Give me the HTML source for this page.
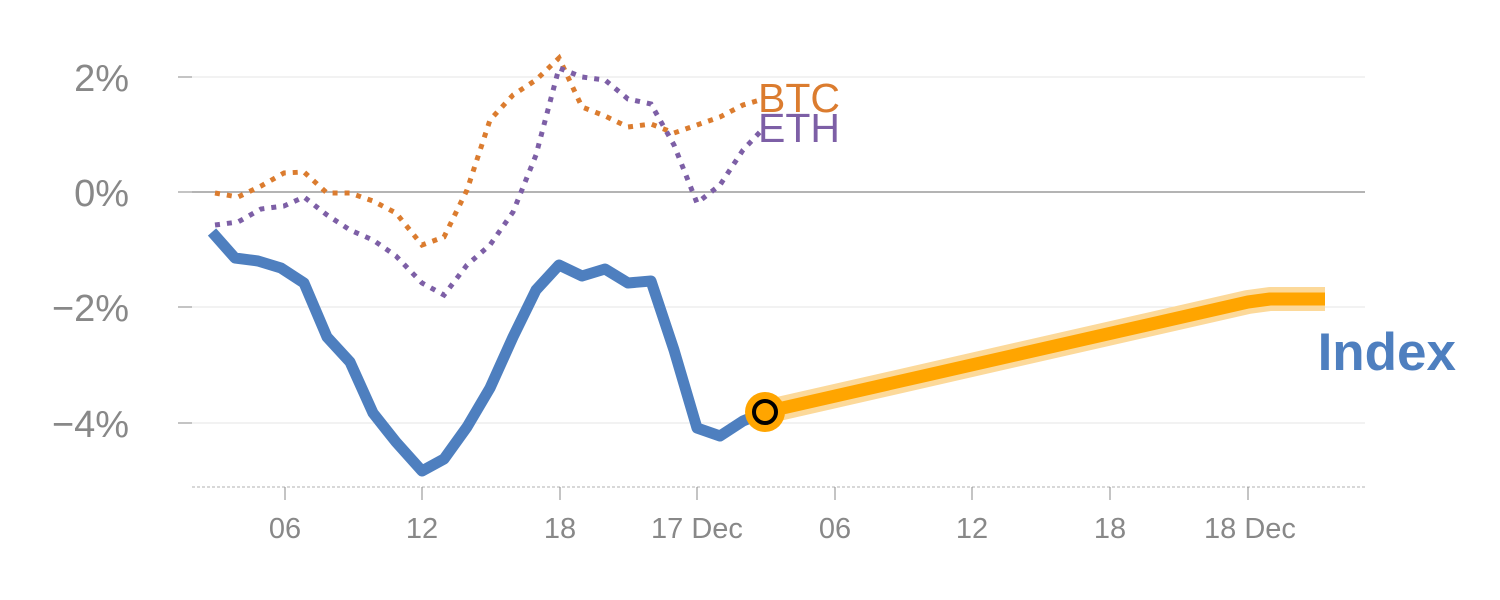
<!DOCTYPE html>
<html><head><meta charset="utf-8"><style>
html,body{margin:0;padding:0;background:#fff;}
svg{display:block;font-family:"Liberation Sans",sans-serif;}
</style></head><body>
<svg width="1500" height="600" viewBox="0 0 1500 600">
<g stroke="#e6e6e6" stroke-width="1">
<line x1="192" y1="77" x2="1365" y2="77"/>
<line x1="192" y1="307" x2="1365" y2="307"/>
<line x1="192" y1="423" x2="1365" y2="423"/>
</g>
<line x1="192" y1="192" x2="1365" y2="192" stroke="#888" stroke-width="1.2"/>
<line x1="192" y1="487" x2="1365" y2="487" stroke="#ccc" stroke-width="1.5" stroke-dasharray="3,2"/>
<g stroke="#888" stroke-width="1">
<line x1="178" y1="77" x2="192" y2="77"/><line x1="178" y1="192" x2="192" y2="192"/>
<line x1="178" y1="307" x2="192" y2="307"/><line x1="178" y1="423" x2="192" y2="423"/>
<line x1="285" y1="487" x2="285" y2="500"/><line x1="422" y1="487" x2="422" y2="500"/>
<line x1="560" y1="487" x2="560" y2="500"/><line x1="697" y1="487" x2="697" y2="500"/>
<line x1="835" y1="487" x2="835" y2="500"/><line x1="972" y1="487" x2="972" y2="500"/>
<line x1="1110" y1="487" x2="1110" y2="500"/><line x1="1248" y1="487" x2="1248" y2="500"/>
</g>
<g fill="#888" font-size="38" text-anchor="end">
<text x="129" y="91">2%</text><text x="129" y="206">0%</text>
<text x="129" y="321">−2%</text><text x="129" y="437">−4%</text>
</g>
<g fill="#888" font-size="29" text-anchor="middle">
<text x="285" y="538">06</text><text x="422" y="538">12</text><text x="560" y="538">18</text>
<text x="697" y="538">17 Dec</text><text x="835" y="538">06</text><text x="972" y="538">12</text>
<text x="1110" y="538">18</text><text x="1250" y="538">18 Dec</text>
</g>
<polyline fill="none" stroke="#db7c2f" stroke-width="5" stroke-dasharray="5,7" points="215,193 238,197 261,186 284,173 304,172 327,193 350,193 373,201 396,213 422,245 444,237 467,190 490,120 513,95 536,80 559,58 582,107 605,116 628,127 651,124 674,133 697,125 720,117 743,105 760,100"/>
<polyline fill="none" stroke="#7d5fa6" stroke-width="5" stroke-dasharray="5,7" points="215,225 238,222 261,209 284,206 304,197 327,215 350,230 373,240 396,256 422,283 444,295 467,265 490,245 513,212 536,155 559,68 582,77 605,80 628,99 651,104 674,145 697,203 720,185 743,150 760,132"/>
<text x="758" y="112" fill="#db7c2f" font-size="41">BTC</text>
<text x="758" y="142" fill="#7d5fa6" font-size="41">ETH</text>
<polyline fill="none" stroke="#4e7fbf" stroke-width="11" stroke-linejoin="round" points="212,232 235,258 258,261 281,268 304,283 327,337 350,362 373,413 396,442 422,471 444,459 467,427 490,388 513,337 536,290 559,265 582,276 605,269 628,283 651,281 674,350 697,428 720,436 743,421 765,412"/>
<polyline fill="none" stroke="#fcd99a" stroke-width="24" stroke-linejoin="round" points="765,412 1248,302 1270,299 1325,299"/>
<polyline fill="none" stroke="#ffa500" stroke-width="13" stroke-linejoin="round" points="765,412 1248,302 1270,299 1325,299"/>
<circle cx="765" cy="412" r="20" fill="#ffa500"/>
<circle cx="765" cy="412" r="11" fill="#ffa500" stroke="#000" stroke-width="4"/>
<text x="1456" y="370" fill="#4e7fbf" font-size="53" font-weight="bold" text-anchor="end">Index</text>
</svg>
</body></html>
